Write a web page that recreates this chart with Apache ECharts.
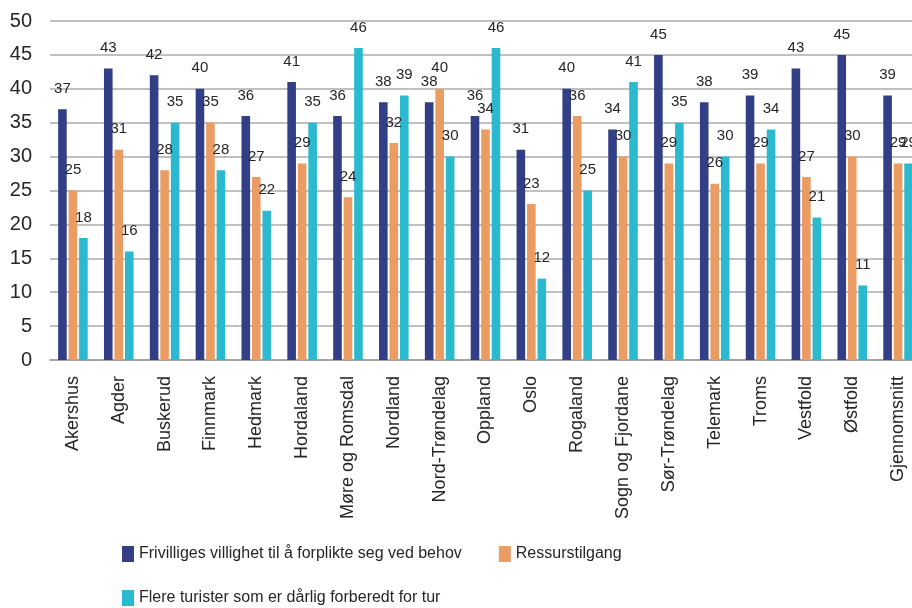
<!DOCTYPE html>
<html>
<head>
<meta charset="utf-8">
<script src="https://cdn.jsdelivr.net/npm/echarts@6/dist/echarts.min.js"></script>
<style>
  html, body { margin: 0; padding: 0; background: #ffffff; }
  #chart { width: 912px; height: 608px; }
</style>
</head>
<body>
<div id="chart"></div>
<script>
// Counties along the x axis
const counties = [
  'Akershus', 'Agder', 'Buskerud', 'Finnmark', 'Hedmark', 'Hordaland',
  'Møre og Romsdal', 'Nordland', 'Nord-Trøndelag', 'Oppland', 'Oslo',
  'Rogaland', 'Sogn og Fjordane', 'Sør-Trøndelag', 'Telemark', 'Troms',
  'Vestfold', 'Østfold', 'Gjennomsnitt'
];

// Series names
const seriesNames = [
  'Frivilliges villighet til å forplikte seg ved behov',
  'Ressurstilgang',
  'Flere turister som er dårlig forberedt for tur'
];

// Values per county
const villighet = [37, 43, 42, 40, 36, 41, 36, 38, 38, 36, 31, 40, 34, 45, 38, 39, 43, 45, 39];
const ressurser = [25, 31, 28, 35, 27, 29, 24, 32, 40, 34, 23, 36, 30, 29, 26, 29, 27, 30, 29];
const turister  = [18, 16, 35, 28, 22, 35, 46, 39, 30, 46, 12, 25, 41, 35, 30, 34, 21, 11, 29];

// Y axis range
const yMin = 0;
const yMax = 50;
const yStep = 5;

const colors = ['#323F86', '#EA9C63', '#2BB9D0'];
const textColor = '#262626';
const font = 'Arial, "Liberation Sans", sans-serif';

const chart = echarts.init(document.getElementById('chart'), null, { renderer: 'canvas' });

function barSeries(name, data, color) {
  return {
    name: name,
    type: 'bar',
    data: data,
    barWidth: 8.6,
    barGap: '22%',
    itemStyle: { color: color },
    label: {
      show: true,
      position: 'top',
      distance: 13,
      color: textColor,
      fontSize: 15,
      fontFamily: font
    },
    emphasis: { disabled: true }
  };
}

chart.setOption({
  animation: false,
  color: colors,
  // the plot area runs slightly past the right edge of the canvas
  grid: { left: 50, right: -9, top: 21, bottom: 248, containLabel: false, outerBoundsMode: 'none' },
  legend: [
    {
      data: [seriesNames[0], seriesNames[1]],
      left: 117,
      top: 541,
      icon: 'rect',
      itemWidth: 12,
      itemHeight: 16,
      itemGap: 37,
      textStyle: { color: textColor, fontSize: 16, fontFamily: font }
    },
    {
      data: [seriesNames[2]],
      left: 117,
      top: 585,
      icon: 'rect',
      itemWidth: 12,
      itemHeight: 16,
      textStyle: { color: textColor, fontSize: 16, fontFamily: font }
    }
  ],
  xAxis: {
    type: 'category',
    data: counties,
    axisLine: { show: true, lineStyle: { color: '#9a9a9a', width: 1.5 } },
    axisTick: { show: false },
    axisLabel: {
      rotate: 90,
      margin: 16,
      interval: 0,
      color: textColor,
      fontSize: 18,
      fontFamily: font
    }
  },
  yAxis: {
    type: 'value',
    min: yMin,
    max: yMax,
    interval: yStep,
    axisLine: { show: false },
    axisTick: { show: false },
    axisLabel: { color: textColor, fontSize: 20, fontFamily: font, margin: 18 },
    splitLine: { lineStyle: { color: '#ababab', width: 1.5 } }
  },
  series: [
    barSeries(seriesNames[0], villighet, colors[0]),
    barSeries(seriesNames[1], ressurser, colors[1]),
    barSeries(seriesNames[2], turister, colors[2])
  ]
});
</script>
</body>
</html>
